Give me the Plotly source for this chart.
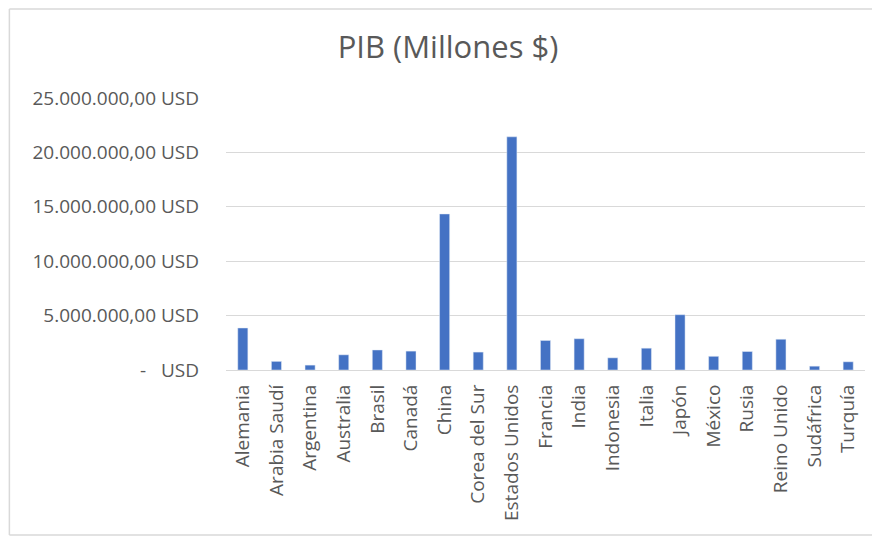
import plotly.graph_objects as go

# Data
paises = ["Alemania", "Arabia Saudí", "Argentina", "Australia", "Brasil", "Canadá",
          "China", "Corea del Sur", "Estados Unidos", "Francia", "India", "Indonesia",
          "Italia", "Japón", "México", "Rusia", "Reino Unido", "Sudáfrica", "Turquía"]
pib = [3861124, 792967, 449663, 1396567, 1839758, 1736426,
       14342903, 1646739, 21433226, 2715518, 2875142, 1119191,
       2003576, 5081770, 1258287, 1699877, 2827113, 351432, 754412]

tick_vals = [0, 5000000, 10000000, 15000000, 20000000, 25000000]
tick_text = ["-   USD", "5.000.000,00 USD", "10.000.000,00 USD",
             "15.000.000,00 USD", "20.000.000,00 USD", "25.000.000,00 USD"]

fig = go.Figure()

fig.add_trace(go.Bar(
    x = paises,
    y = pib,
    marker_color = "#4472C4",
    width = 0.3
))

# Axes
fig.update_xaxes(
    tickangle = -90,
    tickfont = dict(size = 19, color = "#595959"),
    showline = True,
    linecolor = "#d9d9d9",
    ticks = "",
    ticklabelstandoff = 6
)
fig.update_yaxes(
    range = [0, 25000000],
    tickvals = tick_vals,
    ticktext = tick_text,
    tickfont = dict(size = 19, color = "#595959"),
    gridcolor = "#d9d9d9",
    zeroline = False,
    ticklabelstandoff = 26
)

# Chart frame: left, top and bottom edges (right side runs off the page)
frame = dict(color = "#d9d9d9", width = 1.5)
fig.add_shape(type = "line", xref = "paper", yref = "paper",
              x0 = -0.339, x1 = -0.339, y0 = -0.607, y1 = 1.327, line = frame)
fig.add_shape(type = "line", xref = "paper", yref = "paper",
              x0 = -0.339, x1 = 1.3, y0 = 1.327, y1 = 1.327, line = frame)
fig.add_shape(type = "line", xref = "paper", yref = "paper",
              x0 = -0.339, x1 = 1.3, y0 = -0.607, y1 = -0.607, line = frame)

fig.update_layout(
    width = 880, height = 536,
    title = dict(text = "PIB (Millones $)", x = 0.5, xanchor = "center",
                 y = 0.927, yanchor = "middle",
                 font = dict(size = 31, color = "#595959")),
    font = dict(family = "Open Sans"),
    margin = dict(l = 218, r = 23, t = 90, b = 174),
    plot_bgcolor = "white",
    paper_bgcolor = "white",
    showlegend = False
)

fig.write_html("out.html")
